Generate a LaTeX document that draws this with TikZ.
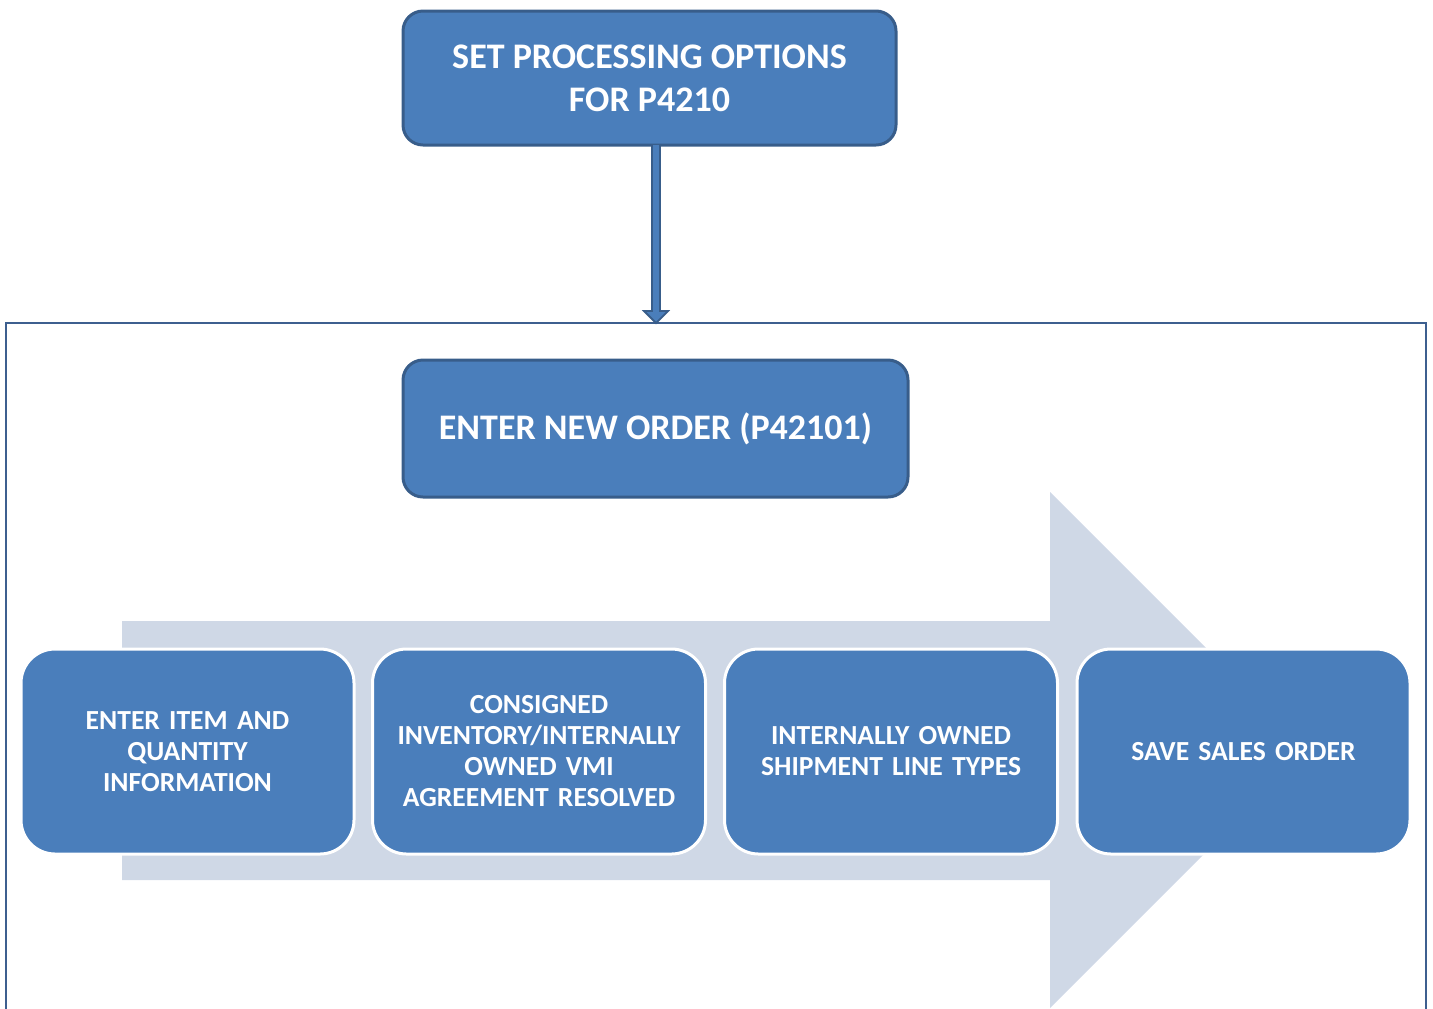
\documentclass[tikz,border=0pt]{standalone}
\usepackage{fontspec}
\setmainfont{Carlito}
\usetikzlibrary{arrows.meta,calc}
\definecolor{boxblue}{HTML}{4A7EBB}
\definecolor{boxedge}{HTML}{385D8A}
\definecolor{arrowgray}{HTML}{CFD8E6}
\definecolor{frameblue}{HTML}{3D5F8F}
\tikzset{
  topbox/.style={rectangle, rounded corners=10pt, fill=boxblue, draw=boxedge, line width=1.5pt,
    text=white, font=\fontsize{18}{21.5}\selectfont\bfseries, align=center, inner sep=0pt, outer sep=0pt},
  stepbox/.style={rectangle, rounded corners=17pt, fill=boxblue, draw=white, line width=1.5pt,
    text=white, font=\fontsize{13.8}{15.5}\selectfont\bfseries, align=center, inner sep=0pt, outer sep=0pt,
    minimum width=166.5pt, minimum height=102.5pt, text width=158pt},
  connector/.style={draw=boxedge, fill=boxblue, line width=0.9pt, line join=miter},
}
\begin{document}
\begin{tikzpicture}[x=0.5pt,y=-0.5pt]
\useasboundingbox (0,0) rectangle (1433,1008);
\clip (0,0) rectangle (1433,1008);
% frame
\node[draw=frameblue, line width=1.3pt, rectangle, inner sep=0pt, outer sep=0pt,
      minimum width=710pt, minimum height=360pt, anchor=north west] (frame) at (6,323) {};
% big background arrow
\fill[arrowgray] (122,621) -- (1050,621) -- (1050,492) -- (1308,750) -- (1050,1008)
  -- (1050,880) -- (122,880) -- cycle;
% top box
\node[topbox, minimum width=246.5pt, minimum height=67pt] (top) at (649.5,78)
  {SET PROCESSING OPTIONS\\FOR P4210};
% connector (block arrow from top box to frame)
\coordinate (cs) at ($(top.south)+(6.5,0)$);
\coordinate (ce) at (cs |- frame.north);
\draw[connector] ($(cs)+(-4,0)$) -- ($(ce)+(-4,-12)$) -- ($(ce)+(-12,-12)$) -- (ce)
  -- ($(ce)+(12,-12)$) -- ($(ce)+(4,-12)$) -- ($(cs)+(4,0)$);
% second box
\node[topbox, minimum width=252.5pt, minimum height=68.5pt] (order) at (655.5,428.5)
  {ENTER NEW ORDER (P42101)};
% steps
\node[stepbox] (s1) at (187.5,751.5) {ENTER ITEM AND\\QUANTITY\\INFORMATION};
\node[stepbox] (s2) at (539,751.5) {CONSIGNED\\INVENTORY/INTERNALLY\\OWNED VMI\\AGREEMENT RESOLVED};
\node[stepbox] (s3) at (891,751.5) {INTERNALLY OWNED\\SHIPMENT LINE TYPES\\[-4pt]};
\node[stepbox] (s4) at (1243.5,751.5) {SAVE SALES ORDER};
\end{tikzpicture}
\end{document}
